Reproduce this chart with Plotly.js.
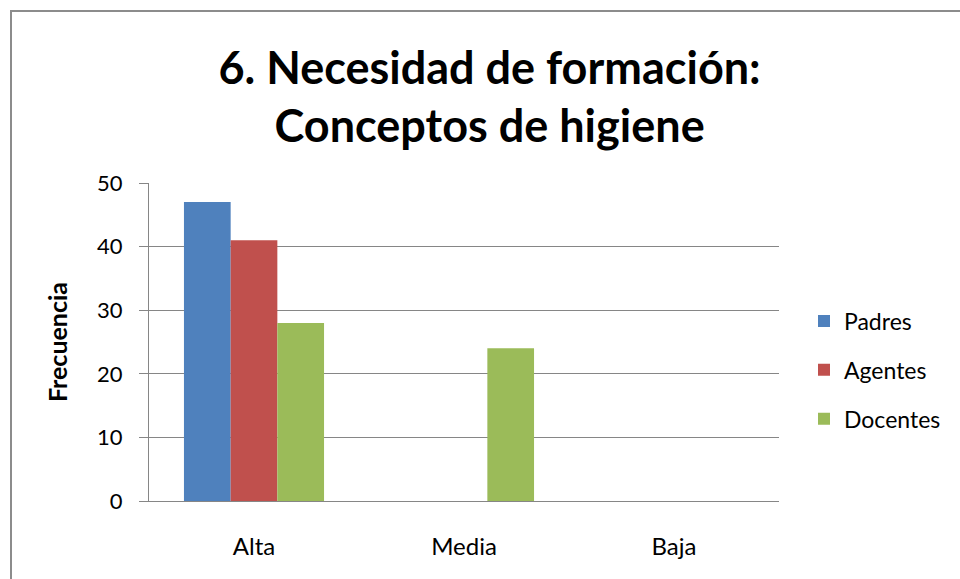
<!DOCTYPE html>
<html>
<head>
<meta charset="utf-8">
<script src="https://cdn.plot.ly/plotly-3.0.1.min.js"></script>
<style>
  body { margin: 0; background: #fff; }
  #chart { position: absolute; left: 0; top: 0; width: 960px; height: 579px; }
  #frame {
    position: absolute; left: 10px; top: 10px; width: 960px; height: 579px;
    border-left: 2px solid #8c8c8c; border-top: 2px solid #8c8c8c;
    pointer-events: none;
  }
</style>
</head>
<body>
<div id="chart"></div>
<div id="frame"></div>
<script>
// niveles de necesidad (eje x)
var categorias = ["Alta", "Media", "Baja"];
// frecuencias
var padres = [47, 0, 0];
var agentes = [41, 0, 0];
var docentes = [28, 24, 0];

var fuente = "Lato, 'Open Sans', sans-serif";

var trazas = [
  { x: categorias, y: padres, type: "bar", name: "Padres", legendgroup: "p",
    marker: { color: "#4f81bd" } },
  { x: categorias, y: agentes, type: "bar", name: "Agentes", legendgroup: "a",
    marker: { color: "#c0504d" } },
  { x: categorias, y: docentes, type: "bar", name: "Docentes", legendgroup: "d",
    marker: { color: "#9bbb59" } }
];

var layout = {
  width: 960,
  height: 579,
  paper_bgcolor: "#fff",
  plot_bgcolor: "#fff",
  font: { family: fuente, color: "#000" },
  margin: { l: 149, r: 181, t: 183, b: 78, pad: 0 },
  title: {
    text: "<b>6. Necesidad de formación:<br>Conceptos de higiene</b>",
    font: { size: 45, family: fuente, color: "#000" },
    x: 0.51, xref: "container", xanchor: "center",
    y: 0.855, yref: "container", yanchor: "bottom"
  },
  barmode: "group",
  bargap: 0.333,
  bargroupgap: 0,
  showlegend: true,
  legend: {
    x: 0.8375, xref: "container", xanchor: "left",
    y: 0.361, yref: "container", yanchor: "middle",
    font: { size: 23, family: fuente, color: "#000" },
    tracegroupgap: 16,
    bgcolor: "rgba(0,0,0,0)"
  },
  xaxis: {
    type: "category",
    showline: true, linecolor: "#868686", linewidth: 1,
    ticks: "", showgrid: false,
    tickfont: { size: 24, family: fuente, color: "#000" },
    ticklabelstandoff: 24,
    fixedrange: true
  },
  yaxis: {
    range: [0, 50], dtick: 10, tick0: 0,
    showline: true, linecolor: "#868686", linewidth: 1,
    ticks: "outside", ticklen: 9, tickcolor: "#868686",
    showgrid: true, gridcolor: "#868686", gridwidth: 1,
    zeroline: false,
    tickfont: { size: 22, family: fuente, color: "#000" },
    ticklabelstandoff: 12,
    title: { text: "<b>Frecuencia</b>", standoff: 22,
             font: { size: 25, family: fuente, color: "#000" } },
    fixedrange: true
  }
};

Plotly.newPlot("chart", trazas, layout, { displayModeBar: false, staticPlot: true });
</script>
</body>
</html>
